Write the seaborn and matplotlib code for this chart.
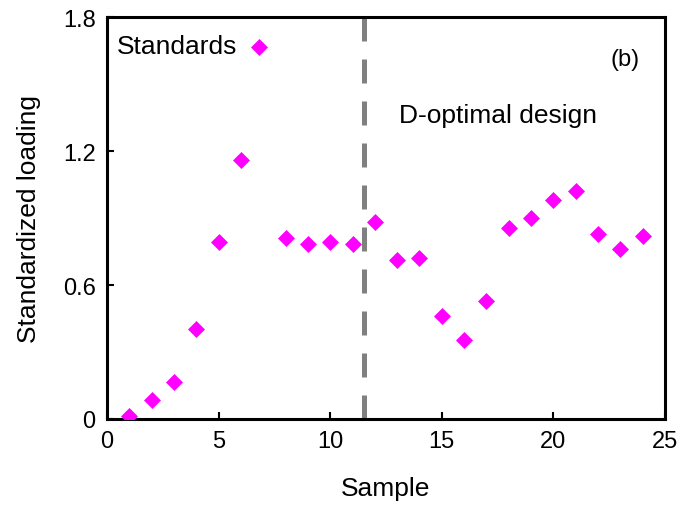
import matplotlib
matplotlib.use("Agg")
import matplotlib.pyplot as plt
import seaborn as sns
import pandas as pd

samples = [1, 2, 3, 4, 5, 6, 8, 9, 10, 11, 12, 13, 14, 15, 16, 17, 18, 19, 20, 21, 22, 23, 24]
loading = [0.012, 0.085, 0.164, 0.403, 0.791, 1.161, 0.811, 0.784, 0.791, 0.784,
           0.884, 0.711, 0.720, 0.463, 0.354, 0.527, 0.855, 0.900, 0.981, 1.023,
           0.829, 0.761, 0.821]
divider_x = 11.5
xticks = [0, 5, 10, 15, 20, 25]
yticks = [0, 0.6, 1.2, 1.8]
ytick_labels = ["0", "0.6", "1.2", "1.8"]

sns.set_theme(style="white")
plt.rcParams["font.family"] = ["Liberation Sans", "DejaVu Sans"]
plt.rcParams["text.color"] = "black"
plt.rcParams["axes.labelcolor"] = "black"
plt.rcParams["xtick.color"] = "black"
plt.rcParams["ytick.color"] = "black"

df = pd.DataFrame({"Sample": samples, "Standardized loading": loading})

fig = plt.figure(figsize=(6.85, 5.06), dpi=100)
ax = fig.add_axes([0.156, 0.170, 0.815, 0.794])

ax.plot([divider_x, divider_x], [1.8, 0], color="#808080", lw=3.6,
        dashes=(4.8, 3.6), solid_capstyle="butt", dash_capstyle="butt", zorder=1)

sns.scatterplot(data=df, x="Sample", y="Standardized loading", ax=ax,
                marker="D", color="#FF00FF", s=75, linewidth=0,
                label="Standards", zorder=3)

ax.set_xlim(0, 25)
ax.set_ylim(0, 1.8)
ax.set_xticks(xticks)
ax.set_yticks(yticks)
ax.set_yticklabels(ytick_labels)
ax.tick_params(axis="both", direction="in", length=5, width=1.5, labelsize=17,
               top=False, right=False, bottom=True, left=True, pad=8)
for sp in ax.spines.values():
    sp.set_linewidth(2.2)
    sp.set_color("black")

ax.set_xlabel("Sample", fontsize=19, labelpad=17)
ax.set_ylabel("Standardized loading", fontsize=19, labelpad=16)

ax.legend(loc="upper left", frameon=False, markerfirst=False, fontsize=19,
          handletextpad=0.3, borderaxespad=0.1, handlelength=1.0,
          bbox_to_anchor=(-0.005, 0.99))

ax.text(0.955, 0.895, "(b)", transform=ax.transAxes, fontsize=17,
        ha="right", va="center")
ax.text(0.523, 0.757, "D-optimal design", transform=ax.transAxes, fontsize=19,
        ha="left", va="center")

fig.savefig("out.png", dpi=100)
